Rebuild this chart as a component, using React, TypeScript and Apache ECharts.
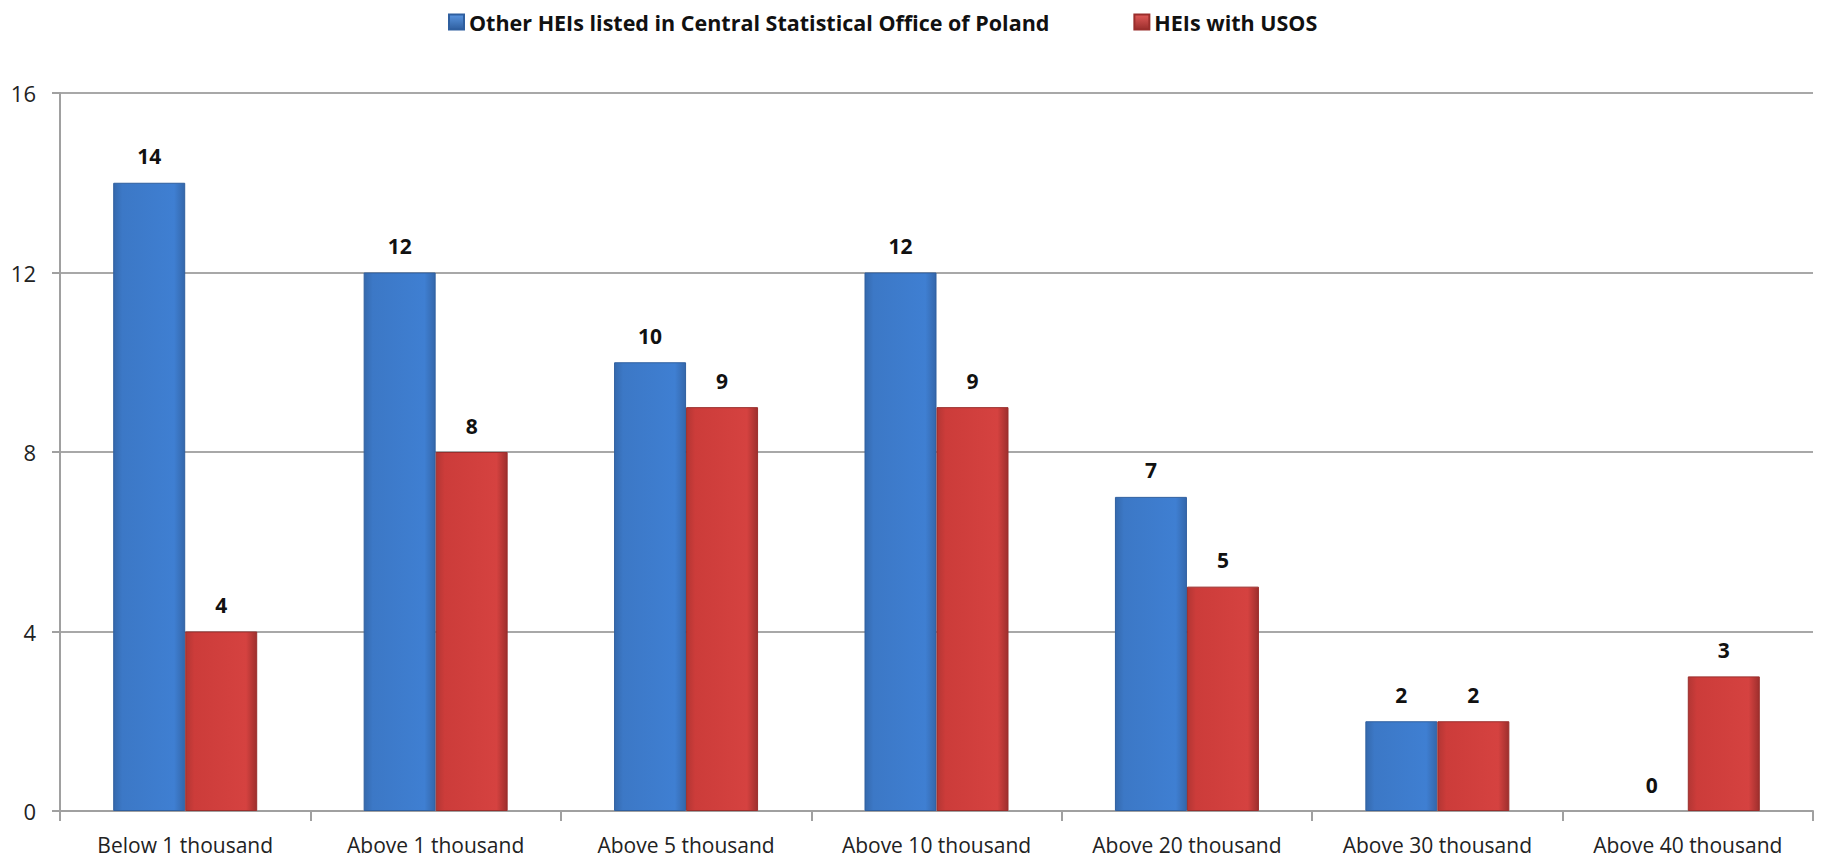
import React, { useEffect, useRef } from "react";
import * as echarts from "echarts";

const categories = [
  "Below 1 thousand",
  "Above 1 thousand",
  "Above 5 thousand",
  "Above 10 thousand",
  "Above 20 thousand",
  "Above 30 thousand",
  "Above 40 thousand",
];
const otherHEIs = [14, 12, 10, 12, 7, 2, 0];
const usosHEIs = [4, 8, 9, 9, 5, 2, 3];
const seriesNames = ["Other HEIs listed in Central Statistical Office of Poland", "HEIs with USOS"];

const FONT = "'Open Sans', 'Liberation Sans', Arial, sans-serif";

const blueGrad = new echarts.graphic.LinearGradient(0, 0, 1, 0, [
  { offset: 0, color: "#3569ad" },
  { offset: 0.12, color: "#3c78c6" },
  { offset: 0.85, color: "#3f7fd2" },
  { offset: 1, color: "#3467ab" },
]);
const redGrad = new echarts.graphic.LinearGradient(0, 0, 1, 0, [
  { offset: 0, color: "#b33634" },
  { offset: 0.12, color: "#cc3c3a" },
  { offset: 0.85, color: "#d54240" },
  { offset: 1, color: "#9e2f2d" },
]);
const blueIcon = new echarts.graphic.LinearGradient(0, 0, 0, 1, [
  { offset: 0, color: "#5a95e0" },
  { offset: 1, color: "#2f5f9f" },
]);
const redIcon = new echarts.graphic.LinearGradient(0, 0, 0, 1, [
  { offset: 0, color: "#e05a58" },
  { offset: 1, color: "#9a2e2c" },
]);

export default function App() {
  const ref = useRef<HTMLDivElement>(null);
  useEffect(() => {
    if (!ref.current) return;
    const chart = echarts.init(ref.current, undefined, { renderer: "svg" });
    const labelCfg = {
      show: true,
      position: "top" as const,
      distance: 16,
      fontFamily: FONT,
      fontWeight: "bold" as const,
      fontSize: 21,
      color: "#111",
    };
    chart.setOption({
      animation: false,
      backgroundColor: "#fff",
      legend: {
        top: 6,
        left: 443,
        itemGap: 84,
        itemWidth: 15,
        itemHeight: 15,
        icon: "rect",
        textStyle: { fontFamily: FONT, fontWeight: "bold", fontSize: 21.5, color: "#111" },
        data: [
          { name: seriesNames[0], itemStyle: { color: blueIcon } },
          { name: seriesNames[1], itemStyle: { color: redIcon } },
        ],
      },
      grid: { left: 60, right: 13, top: 93, bottom: 48, containLabel: false },
      xAxis: {
        type: "category",
        data: categories,
        axisLine: { lineStyle: { color: "#a0a0a0", width: 2 } },
        axisTick: { show: true, interval: 0, length: 10, lineStyle: { color: "#a0a0a0", width: 2 } },
        axisLabel: { interval: 0, hideOverlap: false, margin: 23, fontFamily: FONT, fontSize: 21, color: "#222" },
      },
      yAxis: {
        type: "value",
        min: 0,
        max: 16,
        interval: 4,
        axisLine: { show: true, lineStyle: { color: "#a0a0a0", width: 2 } },
        axisTick: { show: true, length: 8, lineStyle: { color: "#a0a0a0", width: 2 } },
        splitLine: { lineStyle: { color: "#a8a8a8", width: 2 } },
        axisLabel: { margin: 24, fontFamily: FONT, fontSize: 22, color: "#222" },
      },
      series: [
        {
          name: seriesNames[0],
          type: "bar",
          data: otherHEIs.map((v) => (v === 0 ? { value: v, itemStyle: { borderWidth: 0 } } : v)),
          barWidth: 72,
          barGap: "0%",
          itemStyle: { color: blueGrad, borderColor: "#2f5f9f", borderWidth: 1 },
          label: labelCfg,
        },
        {
          name: seriesNames[1],
          type: "bar",
          data: usosHEIs,
          barWidth: 72,
          barGap: "0%",
          itemStyle: { color: redGrad, borderColor: "#9a2e2c", borderWidth: 1 },
          label: labelCfg,
        },
      ],
    });
    return () => chart.dispose();
  }, []);
  return (
    <div
      ref={ref}
      style={{ position: "fixed", left: 0, top: 0, width: 1826, height: 859 }}
    />
  );
}
